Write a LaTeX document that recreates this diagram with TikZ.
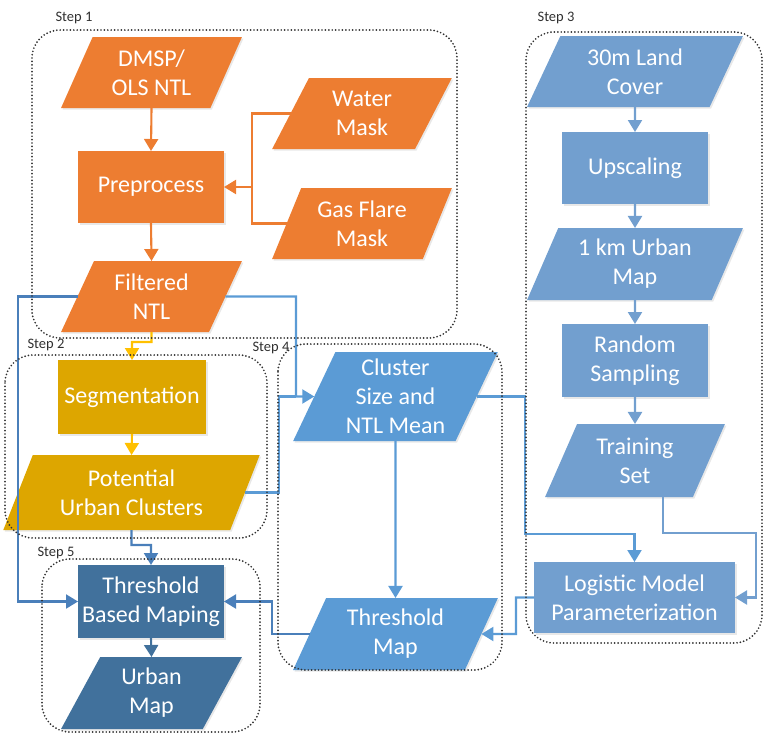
\documentclass[tikz,border=0pt]{standalone}
\usepackage{fontspec}
\setmainfont{Carlito}
\usetikzlibrary{shapes.geometric,arrows.meta,shadows}
\definecolor{orng}{HTML}{ED7D31}
\definecolor{gold}{HTML}{DDA600}
\definecolor{goldln}{HTML}{FFC000}
\definecolor{bmid}{HTML}{5B9BD5}
\definecolor{blt}{HTML}{729FCF}
\definecolor{bdk}{HTML}{41719C}
\definecolor{bln}{HTML}{5B9BD5}
\definecolor{bln2}{HTML}{4A7FBA}
\definecolor{dotc}{HTML}{303030}
\begin{document}
\begin{tikzpicture}[x=1pt,y=-1pt,
  box/.style={rectangle,inner sep=0pt,outer sep=0pt,text=white,align=center,
    font=\fontsize{24}{29}\selectfont,
    drop shadow={opacity=0.18,shadow xshift=1.5pt,shadow yshift=-1.5pt}},
  para/.style={box,trapezium,trapezium left angle=65,trapezium right angle=115,
    trapezium stretches=true},
  conn/.style={line width=2.1pt,-{Triangle[width=14pt,length=12pt]}},
  plain/.style={line width=2.1pt},
  stepbox/.style={draw=dotc,line width=1.9pt,dash pattern=on 0pt off 3.4pt,
    line cap=round,rounded corners=28pt},
  steplab/.style={text=dotc,font=\fontsize{14.5}{17}\selectfont,inner sep=0pt}
]
\useasboundingbox (0,0) rectangle (763,737);

% ---- Step 1 ----
\node[para,fill=orng,minimum width=181pt,minimum height=71pt] (dmsp) at (151.5,72.5) {DMSP/\\OLS NTL};
\node[box,fill=orng,minimum width=146pt,minimum height=72pt] (pre) at (151,187) {Preprocess};
\node[para,fill=orng,minimum width=180pt,minimum height=71pt] (water) at (362,113.5) {Water\\Mask};
\node[para,fill=orng,minimum width=180pt,minimum height=71pt] (gas) at (362,223.5) {Gas Flare\\Mask};
\node[para,fill=orng,minimum width=181pt,minimum height=71pt] (filt) at (151.5,296.5) {Filtered\\NTL};

% ---- Step 2 ----
\node[box,fill=gold,minimum width=148pt,minimum height=74pt] (seg) at (132,397) {Segmentation};
\node[para,fill=gold,minimum width=257pt,minimum height=75pt] (pot) at (131.5,492.5) {Potential\\Urban Clusters};

% ---- Step 4 ----
\node[para,fill=bmid,minimum width=205pt,minimum height=89pt] (clu) at (395.5,396.5) {Cluster\\Size and\\NTL Mean};
\node[para,fill=bmid,minimum width=205pt,minimum height=72pt] (thr) at (395.5,634) {Threshold\\Map};

% ---- Step 5 ----
\node[box,fill=bdk,minimum width=146pt,minimum height=73pt] (tbm) at (151,601.5) {Threshold\\Based Maping};
\node[para,fill=bdk,minimum width=181pt,minimum height=72pt] (um) at (151.5,693) {Urban\\Map};

% ---- Step 3 ----
\node[para,fill=blt,minimum width=216pt,minimum height=71pt] (land) at (635,71.5) {30m Land\\Cover};
\node[box,fill=blt,minimum width=146pt,minimum height=72pt] (up) at (635,168) {Upscaling};
\node[para,fill=blt,minimum width=216pt,minimum height=72pt] (km) at (635,264) {1 km Urban\\Map};
\node[box,fill=blt,minimum width=146pt,minimum height=73pt] (rs) at (635,360.5) {Random\\Sampling};
\node[para,fill=blt,minimum width=180pt,minimum height=73pt] (train) at (635,460.5) {Training\\Set};
\node[box,fill=blt,minimum width=201pt,minimum height=71pt] (log) at (634.5,597.5) {Logistic Model\\Parameterization};

% ---- bend points ----
\coordinate (j1) at (252,187);
\coordinate (c1) at (296,396.5);
\coordinate (c2) at (279,396.5);
\coordinate (c3) at (18,601.5);
\coordinate (c4) at (131.5,545);
\coordinate (c5) at (272,601.5);
\coordinate (c6) at (525,534);
\coordinate (c7) at (663,533);
\coordinate (c8) at (756,597.5);
\coordinate (c9) at (516,634);

% ---- orange connectors ----
\draw[conn,orng] (dmsp.south) -- (pre.north);
\draw[conn,orng] (pre.south) -- (filt.north);
\draw[plain,orng] (water.west) -| (j1) |- (gas.west);
\draw[conn,orng] (j1) -- (pre.east);

% ---- yellow connectors ----
\coordinate (y1) at (151.5,342);
\draw[conn,goldln] (filt.south) -- (y1) -| (seg.north);
\draw[conn,goldln] (seg.south) -- (pot.north);

% ---- blue connectors ----
\draw[plain,bln] (pot.east) -| (c2) -- (c1);
\draw[conn,bln] (filt.east) -| (c1) -- (clu.west);
\draw[conn,bln2] (filt.west) -| (c3) -- (tbm.west);
\draw[conn,bln2] (pot.south) -- (c4) -| (tbm.north);
\draw[conn,bln] (clu.south) -- (thr.north);
\draw[conn,bln2] (thr.west) -| (c5) -- (tbm.east);
\draw[conn,bln] (clu.east) -| (c6) -| (log.north);
\draw[conn,blt] (c7 |- train.south) -- (c7) -| (c8) -- (log.east);
\draw[conn,bln] (log.west) -| (c9) -- (thr.east);
\draw[conn,bdk] (tbm.south) -- (um.north);
\draw[conn,blt] (land.south) -- (up.north);
\draw[conn,blt] (up.south) -- (km.north);
\draw[conn,blt] (km.south) -- (rs.north);
\draw[conn,blt] (rs.south) -- (train.north);

% ---- step boxes ----
\draw[stepbox] (32,30) rectangle (457,338);
\draw[stepbox] (5,355) rectangle (267,538);
\draw[stepbox] (526,32) rectangle (762,643);
\draw[stepbox] (278,344) rectangle (502,670);
\draw[stepbox] (42,559) rectangle (260,732);
\node[steplab] (s1) at (74,18) {Step 1};
\node[steplab] (s2) at (46,345) {Step 2};
\node[steplab] (s3) at (556,18) {Step 3};
\node[steplab] (s4) at (271,348) {Step 4};
\node[steplab] (s5) at (56,553) {Step 5};
\end{tikzpicture}
\end{document}
